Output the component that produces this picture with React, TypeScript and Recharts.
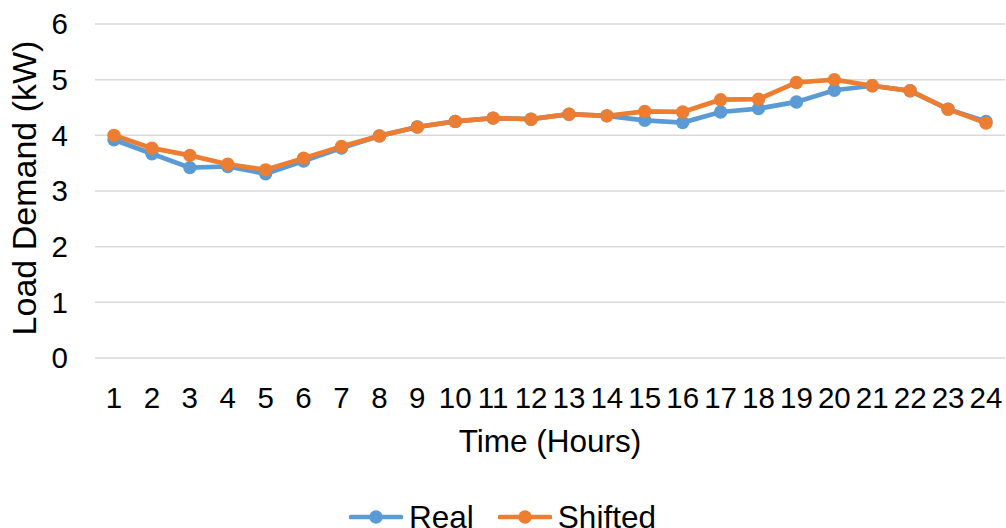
import { LineChart, Line, XAxis, YAxis, CartesianGrid, Legend, Label } from "recharts";

const HOURS = ["1", "2", "3", "4", "5", "6", "7", "8", "9", "10", "11", "12", "13", "14", "15", "16", "17", "18", "19", "20", "21", "22", "23", "24"];
const REAL = [3.92, 3.67, 3.42, 3.44, 3.31, 3.54, 3.77, 3.99, 4.15, 4.25, 4.31, 4.29, 4.38, 4.35, 4.27, 4.23, 4.42, 4.48, 4.6, 4.81, 4.89, 4.8, 4.47, 4.25];
const SHIFTED = [4.0, 3.77, 3.64, 3.48, 3.38, 3.59, 3.8, 3.99, 4.15, 4.25, 4.31, 4.29, 4.38, 4.35, 4.43, 4.42, 4.64, 4.65, 4.95, 5.0, 4.89, 4.8, 4.47, 4.22];
const Y_TICKS = [0, 1, 2, 3, 4, 5, 6];

const BLUE = "#5B9BD5";
const ORANGE = "#ED7D31";
const FONT = "'Liberation Sans', Arial, sans-serif";

const data = HOURS.map((h, i) => ({ hour: h, real: REAL[i], shifted: SHIFTED[i] }));

function LegendContent() {
  const items = [
    { name: "Real", color: BLUE },
    { name: "Shifted", color: ORANGE },
  ];
  return (
    <div style={{ display: "flex", justifyContent: "center", alignItems: "center", gap: 24, paddingTop: 41 }}>
      {items.map((it) => (
        <div key={it.name} style={{ display: "flex", alignItems: "center" }}>
          <svg width={54} height={16} style={{ marginRight: 6 }}>
            <line x1={2} y1={8} x2={52} y2={8} stroke={it.color} strokeWidth={4.7} strokeLinecap="round" />
            <circle cx={27} cy={8} r={6.7} fill={it.color} />
          </svg>
          <span style={{ fontFamily: FONT, fontSize: 31.5, color: "#000", lineHeight: "36px" }}>{it.name}</span>
        </div>
      ))}
    </div>
  );
}

export default function App() {
  return (
    <div style={{ position: "absolute", left: 0, top: 0, width: 1006, height: 528, background: "#fff" }}>
      <LineChart width={1006} height={528} data={data} margin={{ top: 24, right: 1, bottom: 0, left: 0 }}>
        <CartesianGrid vertical={false} stroke="#d9d9d9" strokeWidth={1.5} />
        <XAxis
          dataKey="hour"
          interval={0}
          axisLine={false}
          tickLine={false}
          height={100}
          tickMargin={23}
          padding={{ left: 19, right: 19 }}
          tick={{ fill: "#000", fontSize: 29.5, fontFamily: FONT }}
        >
          <Label value="Time (Hours)" position="insideBottom" offset={6} fill="#000" fontSize={31.5} fontFamily={FONT} />
        </XAxis>
        <YAxis
          domain={[0, 6]}
          ticks={Y_TICKS}
          interval={0}
          axisLine={false}
          tickLine={false}
          width={95}
          tickMargin={21}
          tick={{ fill: "#000", fontSize: 29.5, fontFamily: FONT }}
        >
          <Label value="Load Demand (kW)" angle={-90} position="center" dx={-24} dy={-3} fill="#000" fontSize={34} fontFamily={FONT} />
        </YAxis>
        <Legend verticalAlign="bottom" height={70} content={<LegendContent />} />
        <Line
          dataKey="real"
          stroke={BLUE}
          strokeWidth={4.7}
          dot={{ r: 6.7, fill: BLUE, stroke: "none" }}
          activeDot={false}
          isAnimationActive={false}
        />
        <Line
          dataKey="shifted"
          stroke={ORANGE}
          strokeWidth={4.7}
          dot={{ r: 6.7, fill: ORANGE, stroke: "none" }}
          activeDot={false}
          isAnimationActive={false}
        />
      </LineChart>
    </div>
  );
}
